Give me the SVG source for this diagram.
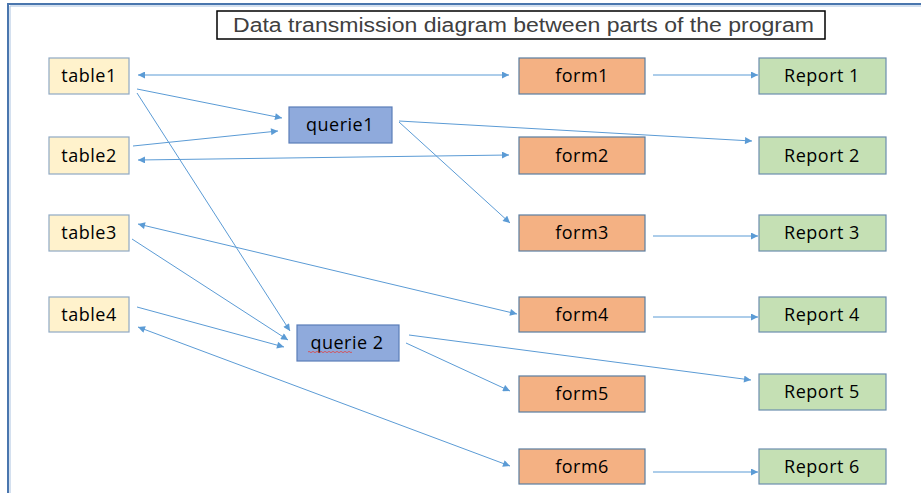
<svg xmlns="http://www.w3.org/2000/svg" width="921" height="493" viewBox="0 0 921 493">
<defs>
<marker id="ah" viewBox="0 0 10 10" refX="10" refY="5" markerWidth="8" markerHeight="7" markerUnits="userSpaceOnUse" orient="auto-start-reverse">
<path d="M0,0 L10,5 L0,10 z" fill="#5B9BD5"/>
</marker>
<style>
.bg{fill:#ffffff}
.frame{fill:none;stroke:#4A76AE;stroke-width:2}
.frame2{fill:none;stroke:#A9C2E0;stroke-width:1}
.title{fill:#ffffff;stroke:#000000;stroke-width:1.5}
.tt{font-family:"Liberation Sans",Arial,sans-serif;font-size:20px;fill:#404040}
.tbl{fill:#FFF2CC;stroke:#8FA9C4;stroke-width:1.2}
.qry{fill:#8FAADC;stroke:#5A7DB8;stroke-width:1.2}
.frm{fill:#F4B183;stroke:#5A7DA0;stroke-width:1.2}
.rep{fill:#C5E0B4;stroke:#6C8EAE;stroke-width:1.2}
.lbl{font-family:"Open Sans","Noto Sans",sans-serif;font-size:18px;font-weight:500;fill:#000000;text-anchor:middle;letter-spacing:0.5px}
.e{fill:none;stroke:#5B9BD5;stroke-width:1}
</style>
</defs>
<rect class="bg" x="0" y="0" width="921" height="493"/>
<polyline class="frame2" points="10,493 10,6 921,6"/>
<polyline class="frame" points="8,493 8,4 921,4"/>

<g id="title">
<rect class="title" x="217" y="11" width="608" height="28"/>
<text class="tt" x="233" y="32" textLength="581" lengthAdjust="spacingAndGlyphs">Data transmission diagram between parts of the program</text>
</g>

<g id="connectors">
<line class="e" x1="138" y1="75" x2="509" y2="75" marker-start="url(#ah)" marker-end="url(#ah)"/>
<line class="e" x1="653" y1="75" x2="758" y2="75" marker-end="url(#ah)"/>
<line class="e" x1="137" y1="89" x2="282" y2="118" marker-end="url(#ah)"/>
<line class="e" x1="137" y1="93" x2="290" y2="331" marker-end="url(#ah)"/>
<line class="e" x1="133" y1="146" x2="278" y2="131" marker-end="url(#ah)"/>
<line class="e" x1="138" y1="160" x2="509" y2="155" marker-start="url(#ah)" marker-end="url(#ah)"/>
<line class="e" x1="399" y1="121" x2="752" y2="141" marker-end="url(#ah)"/>
<line class="e" x1="399" y1="122" x2="510" y2="223" marker-end="url(#ah)"/>
<line class="e" x1="653" y1="236" x2="758" y2="236" marker-end="url(#ah)"/>
<line class="e" x1="138" y1="224" x2="517" y2="314" marker-start="url(#ah)" marker-end="url(#ah)"/>
<line class="e" x1="132" y1="239" x2="288" y2="340" marker-end="url(#ah)"/>
<line class="e" x1="137" y1="307" x2="284" y2="347" marker-end="url(#ah)"/>
<line class="e" x1="138" y1="327" x2="510" y2="466" marker-start="url(#ah)" marker-end="url(#ah)"/>
<line class="e" x1="409" y1="335" x2="751" y2="380" marker-end="url(#ah)"/>
<line class="e" x1="406" y1="343" x2="510" y2="391" marker-end="url(#ah)"/>
<line class="e" x1="653" y1="317" x2="758" y2="317" marker-end="url(#ah)"/>
<line class="e" x1="653" y1="472" x2="758" y2="472" marker-end="url(#ah)"/>
</g>

<g id="table1"><rect class="tbl" x="49" y="58" width="80" height="36"/><text class="lbl" x="89" y="82">table1</text></g>
<g id="table2"><rect class="tbl" x="49" y="137" width="80" height="37"/><text class="lbl" x="89" y="162">table2</text></g>
<g id="table3"><rect class="tbl" x="49" y="215" width="80" height="36"/><text class="lbl" x="89" y="239">table3</text></g>
<g id="table4"><rect class="tbl" x="49" y="297" width="80" height="35"/><text class="lbl" x="89" y="321">table4</text></g>

<g id="querie1"><rect class="qry" x="289" y="107" width="103" height="36"/><text class="lbl" x="340" y="131">querie1</text></g>
<g id="querie2"><rect class="qry" x="297" y="325" width="102" height="36"/><text class="lbl" x="347" y="349">querie 2</text>
<path d="M308,352 q1,-1.2 2,0 t2,0 t2,0 t2,0 t2,0 t2,0 t2,0 t2,0 t2,0 t2,0 t2,0 t2,0 t2,0 t2,0 t2,0 t2,0 t2,0 t2,0 t2,0 t2,0 t2,0 t2,0" fill="none" stroke="#E04040" stroke-width="0.8"/></g>

<g id="form1"><rect class="frm" x="519" y="58" width="126" height="36"/><text class="lbl" x="582" y="82">form1</text></g>
<g id="form2"><rect class="frm" x="519" y="137" width="126" height="37"/><text class="lbl" x="582" y="162">form2</text></g>
<g id="form3"><rect class="frm" x="519" y="215" width="126" height="36"/><text class="lbl" x="582" y="239">form3</text></g>
<g id="form4"><rect class="frm" x="519" y="297" width="126" height="35"/><text class="lbl" x="582" y="321">form4</text></g>
<g id="form5"><rect class="frm" x="519" y="376" width="126" height="36"/><text class="lbl" x="582" y="400">form5</text></g>
<g id="form6"><rect class="frm" x="519" y="449" width="126" height="35"/><text class="lbl" x="582" y="473">form6</text></g>

<g id="report1"><rect class="rep" x="759" y="58" width="127" height="36"/><text class="lbl" x="822" y="82">Report 1</text></g>
<g id="report2"><rect class="rep" x="759" y="137" width="127" height="37"/><text class="lbl" x="822" y="162">Report 2</text></g>
<g id="report3"><rect class="rep" x="759" y="215" width="127" height="36"/><text class="lbl" x="822" y="239">Report 3</text></g>
<g id="report4"><rect class="rep" x="759" y="297" width="127" height="35"/><text class="lbl" x="822" y="321">Report 4</text></g>
<g id="report5"><rect class="rep" x="759" y="374" width="127" height="36"/><text class="lbl" x="822" y="398">Report 5</text></g>
<g id="report6"><rect class="rep" x="759" y="449" width="127" height="35"/><text class="lbl" x="822" y="473">Report 6</text></g>
</svg>
